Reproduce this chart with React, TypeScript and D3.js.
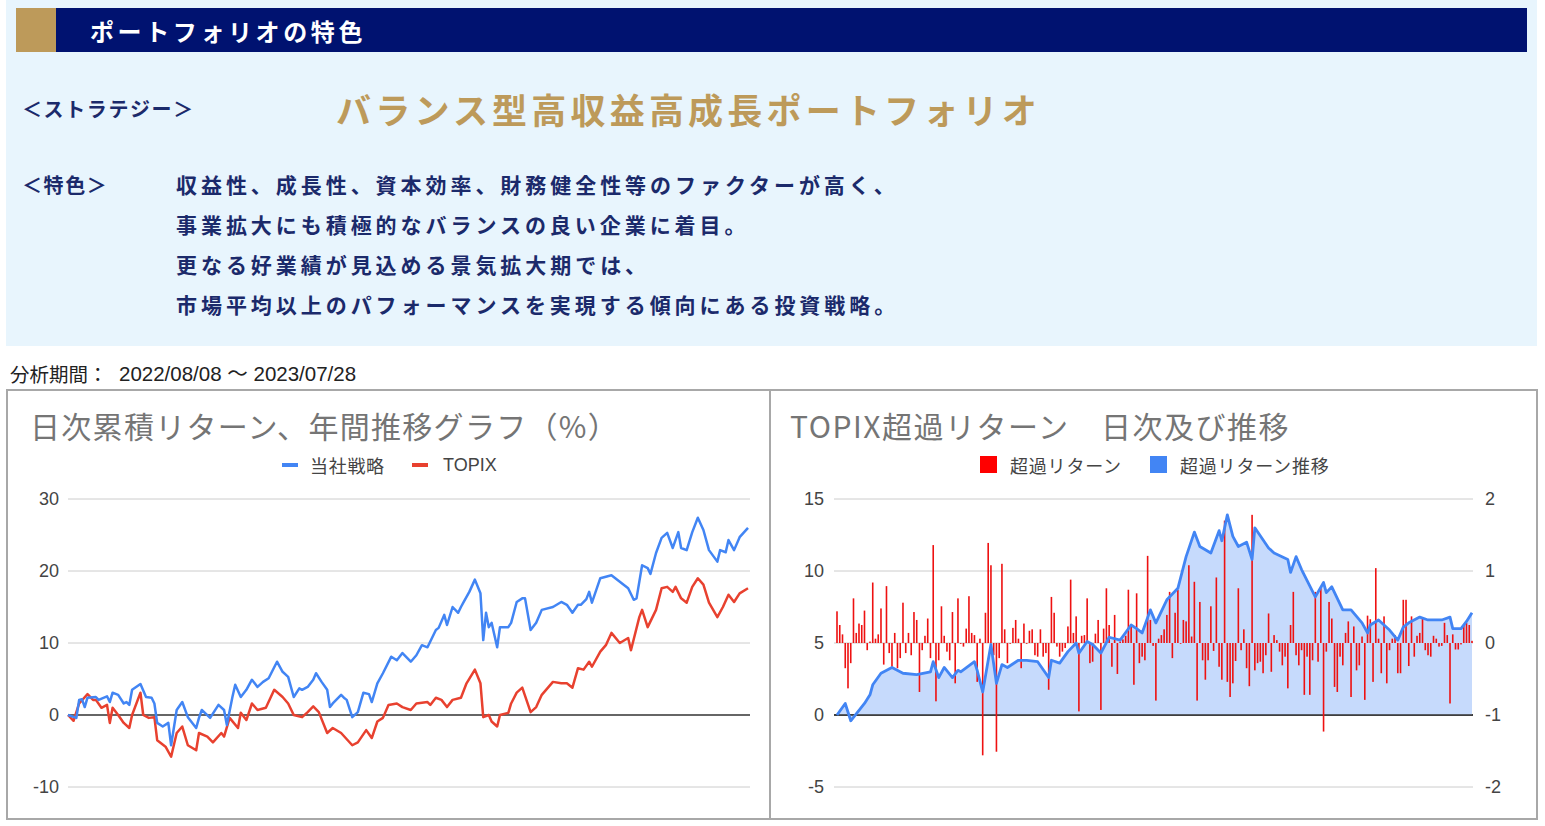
import React from "react";
import * as d3 from "d3";

// ---------- text content ----------
const headerTitle = "ポートフォリオの特色";
const strategyLabel = "＜ストラテジー＞";
const strategyName = "バランス型高収益高成長ポートフォリオ";
const featureLabel = "＜特色＞";
const featureLines = [
  "収益性、成長性、資本効率、財務健全性等のファクターが高く、",
  "事業拡大にも積極的なバランスの良い企業に着目。",
  "更なる好業績が見込める景気拡大期では、",
  "市場平均以上のパフォーマンスを実現する傾向にある投資戦略。",
];
const periodLabel = "分析期間：";
const periodRange = "2022/08/08 ～ 2023/07/28";

// ---------- left chart: cumulative returns (%) ----------
const leftTitle = "日次累積リターン、年間推移グラフ（%）";
const leftSeriesNames = ["当社戦略", "TOPIX"];
const leftTicks = [-10, 0, 10, 20, 30];
const leftDays = 244;

const strategy: [number, number][] = [
  [0, 0], [3, -0.4], [4, 2.1], [5, 2.2], [6, 1.1], [7, 2.4], [10, 2.5], [11, 2.1], [14, 2.6], [15, 1.8],
  [16, 3.1], [18, 2.8], [20, 1.6], [21, 1.8], [22, 1.4], [23, 3.5], [26, 4.3], [28, 2.5], [30, 2.4], [31, 1.6],
  [32, -1.1], [34, -1.6], [36, -1.1], [37, -4.2], [39, 0.7], [41, 1.8], [43, -0.3], [46, -1.8], [47, -0.4], [48, 0.7],
  [51, -0.4], [54, 1.4], [56, 0.7], [57, -1.4], [59, 2.5], [60, 4.2], [62, 2.5], [64, 3.5], [66, 4.9], [68, 3.9],
  [70, 4.6], [72, 5.1], [75, 7.4], [77, 6.0], [79, 5.3], [81, 2.5], [83, 3.7], [84, 3.5], [86, 3.9], [88, 4.9],
  [89, 5.8], [91, 4.6], [93, 3.5], [94, 1.1], [95, 1.6], [98, 2.8], [99, 2.4], [100, 2.1], [102, -0.3], [104, 0.4],
  [106, 3.1], [108, 2.9], [109, 1.8], [111, 4.4], [113, 5.8], [116, 8.1], [118, 7.6], [120, 8.6], [123, 7.4], [125, 8.3],
  [127, 9.7], [129, 9.4], [132, 11.8], [133, 12.1], [135, 13.9], [136, 12.5], [138, 15.0], [140, 14.2], [141, 15.0], [142, 15.7],
  [144, 17.1], [146, 18.8], [148, 16.9], [149, 10.4], [150, 14.2], [151, 12.2], [152, 12.8], [154, 9.4], [155, 12.2], [158, 12.2],
  [159, 12.8], [161, 15.7], [163, 16.2], [164, 16.2], [166, 11.8], [168, 12.8], [170, 14.6], [174, 15.0], [177, 15.7], [179, 15.3],
  [181, 14.2], [183, 15.3], [184, 15.3], [186, 16.1], [187, 17.1], [188, 15.6], [191, 19.0], [193, 19.2], [195, 19.4], [198, 18.5],
  [201, 17.6], [203, 16.0], [204, 16.2], [206, 20.8], [208, 20.4], [209, 19.6], [211, 22.5], [213, 24.6], [215, 25.3], [217, 23.2],
  [219, 25.4], [220, 23.2], [222, 22.9], [224, 25.4], [226, 27.4], [228, 25.7], [230, 22.9], [233, 21.3], [234, 22.9], [236, 22.6],
  [237, 24.3], [239, 22.9], [241, 24.7], [244, 26.0],
];

const topix: [number, number][] = [
  [0, 0], [2, -0.8], [4, 1.6], [7, 2.9], [9, 2.1], [10, 2.1], [12, 1.0], [14, 1.4], [15, -1.1], [16, 1.0],
  [18, 0], [20, -1.1], [22, -1.8], [23, 0], [26, 3.1], [27, 0], [29, -0.4], [31, -0.3], [32, -3.5], [35, -4.4],
  [37, -5.8], [39, -2.5], [41, -1.6], [43, -4.2], [46, -4.9], [47, -2.5], [50, -3.0], [52, -3.8], [55, -2.5], [56, -3.0],
  [58, -0.4], [61, -1.8], [62, 0.3], [64, -0.7], [66, 1.6], [68, 0.7], [71, 1.0], [74, 3.5], [77, 2.5], [79, 1.6],
  [81, 0], [84, -0.3], [86, 0.4], [88, 1.2], [90, 0.4], [93, -2.5], [95, -1.8], [98, -2.5], [102, -4.2], [104, -3.8],
  [107, -2.1], [109, -3.2], [111, -0.9], [113, -0.4], [115, 1.4], [118, 1.6], [120, 1.1], [123, 0.7], [125, 1.6], [129, 1.8],
  [130, 1.4], [132, 2.4], [134, 2.1], [136, 1.1], [138, 2.1], [141, 2.4], [143, 4.4], [146, 6.3], [148, 4.4], [149, -0.3],
  [151, 0], [152, -0.9], [154, -1.6], [155, 0], [158, 0.3], [159, 1.6], [161, 3.1], [163, 3.8], [166, 0.4], [168, 1.1],
  [170, 2.8], [174, 4.6], [177, 4.4], [179, 4.4], [181, 3.8], [183, 6.5], [185, 6.3], [187, 7.4], [188, 6.7], [191, 8.8],
  [193, 9.7], [195, 11.4], [198, 10.0], [201, 10.7], [202, 9.0], [205, 13.6], [206, 14.6], [208, 12.2], [211, 14.6], [213, 17.6],
  [215, 17.8], [217, 17.1], [218, 17.8], [220, 16.2], [222, 15.6], [224, 17.8], [226, 19.0], [228, 18.1], [230, 15.6], [233, 13.6],
  [235, 15.0], [237, 16.7], [239, 15.7], [241, 16.9], [244, 17.6],
];

// ---------- right chart: excess return over TOPIX ----------
const rightTitle = "TOPIX超過リターン　日次及び推移";
const rightSeriesNames = ["超過リターン", "超過リターン推移"];
const rightLeftTicks = [-5, 0, 5, 10, 15];
const rightRightTicks = [-2, -1, 0, 1, 2];

// daily excess return (right axis, %)
const dailyExcess: number[] = [
  0.44, 0.25, 0.12, -0.35, -0.63, -0.28, 0.62, 0.14, 0.27, 0.25, 0.45, -0.1, 0.02, 0.84, 0.06, 0.12, 0.48, -0.3, 0.79, -0.14,
  -0.33, 0.14, -0.35, -0.21, 0.56, -0.14, 0.14, -0.17, 0.43, 0.32, -0.68, -0.1, 0.1, 0.34, -0.21, 1.36, -0.81, -0.24, 0.51, 0.1,
  -0.12, -0.24, 0.43, -0.56, 0.62, 0,
  -0.05, 0.2, 0.65, 0.14, 0.11, -0.54, 0.06, -1.56, 0.42, 1.39, 1.08, -0.17, -1.51, -0.21, 1.1, 0.19, -0.28, 0, 0.21, 0.32,
  0.06, -0.35, 0.27, 0, 0.17, 0.19, -0.17, -0.19, 0.19, -0.19, -0.14, -0.65, 0.64, 0.42, -0.05, -0.19, -0.12, -0.07, 0.23, 0.88,
  0.14, 0.37, -0.95, 0.1, 0.11, 0.62, -0.28,
  -0.26, 0.13, 0.32, -0.93, 0.2, 0.76, 0.25, -0.33, 0.39, -0.43, 0.02, 0.05, 0.1, 0.74, 0.25, -0.58, 0.69, -0.28, -0.19, -0.24,
  1.21, 0.32, -0.04, -0.8, 0.06, 0.11, 0.19, 0.39, 0.71, -0.21, 0.42, 0.74, 0, 0.32, 0.3, 1.08, 0.09, 0.85, -0.8, 0.57,
  -0.24, -0.51, -0.24, 0.51, -0.11, 0.91,
  -0.33, -0.51, 1.7, -0.54, -0.75, -0.56, -0.25, 0.76, -0.1, 0.19, -0.35, -0.6, 1.78, -0.38, -0.28, -0.26, -0.42, -0.17, 0.41, -0.4,
  0.11, 0.04, -0.12, -0.31, -0.19, -0.63, 0.25, 0.71, -0.17, -0.31, -0.1, -0.72, -0.19, -0.72, -0.24, 0.71, -0.26, 0.76, -1.23, -0.12,
  0.57, 0.34, -0.61, -0.68, -0.19, -0.31, 0.14, 0.3,
  -0.75, 0.23, -0.38, -0.31, 0.09, -0.79, 0.38, 0.33, -0.54, 1.04, 0.06, -0.42, 0.37, -0.56, -0.1, 0.06, 0.11, -0.42, -0.42, 0.6,
  0.6, -0.32, 0.37, -0.19, 0.1, 0.14, 0.34, -0.1, -0.17, -0.19, 0.1, 0.06, -0.05, -0.04, 0.28, 0.11, -0.84, 0.12, -0.09, -0.09,
  -0.02, 0.25, 0.28, 0.25, 0.03,
];

// cumulative excess return (left axis, %), [day index, value]
const cumulativeExcess: [number, number][] = [
  [0, 0], [3, 0.8], [5, -0.4], [10, 0.8], [12, 1.4], [13, 2.1], [16, 2.9], [20, 3.3], [24, 2.9], [29, 2.8],
  [34, 3.0], [35, 3.7], [37, 2.6], [39, 3.3], [42, 2.6], [44, 3.1], [45, 3.0], [50, 3.7], [51, 3.1], [53, 1.6],
  [56, 4.9], [58, 2.2], [60, 3.5], [62, 3.3], [66, 3.8], [69, 3.8], [73, 3.7], [77, 2.6], [78, 3.8], [81, 3.6],
  [84, 4.4], [87, 5.0], [88, 4.3], [91, 5.1], [93, 4.9], [96, 4.3], [99, 5.4], [103, 5.2], [107, 6.25], [109, 6.0],
  [111, 5.7], [114, 7.3], [116, 6.4], [120, 8.0], [124, 8.8], [127, 11.0], [130, 12.7], [132, 11.7], [136, 11.25], [139, 12.8],
  [140, 12.1], [142, 13.9], [144, 12.4], [146, 11.7], [149, 12.0], [151, 10.8], [152, 13.0], [157, 11.6], [159, 11.25], [164, 10.8],
  [165, 9.9], [167, 11.0], [169, 10.1], [174, 8.2], [177, 9.2], [178, 8.5], [180, 8.9], [184, 7.3], [187, 7.3], [191, 6.4],
  [193, 5.7], [194, 6.25], [197, 6.6], [201, 5.9], [204, 5.2], [206, 6.1], [208, 6.4], [212, 6.8], [215, 6.6], [220, 6.6],
  [223, 6.8], [224, 6.0], [227, 6.0], [229, 6.5], [231, 7.1],
];

// ---------- styles ----------
const JP = "'Noto Sans CJK JP', 'Noto Sans', sans-serif";
const NUM = "'Liberation Sans', Arial, 'Noto Sans CJK JP', sans-serif";
const NAVY = "#001270";
const GOLD = "#bd9a5a";
const TXT_NAVY = "#1b2a6b";
const BLUE = "#4285f4";
const RED = "#e8412f";

export default function App() {
  // left chart scales
  const xL = d3.scaleLinear().domain([0, leftDays]).range([68, 748]);
  const yL = d3.scaleLinear().domain([-10, 30]).range([787, 499]);
  const lineL = d3.line<[number, number]>().x((d) => xL(d[0])).y((d) => yL(d[1]));

  // right chart scales
  const nBars = dailyExcess.length;
  const xR = d3.scaleLinear().domain([0, nBars - 1]).range([837, 1472]);
  const yRL = d3.scaleLinear().domain([-5, 15]).range([787, 499]);
  const yRR = d3.scaleLinear().domain([-2, 2]).range([787, 499]);
  const areaR = d3
    .area<[number, number]>()
    .x((d) => xR(d[0]))
    .y0(yRL(0))
    .y1((d) => yRL(d[1]));
  const lineR = d3.line<[number, number]>().x((d) => xR(d[0])).y((d) => yRL(d[1]));

  return (
    <svg
      width={1545}
      height={826}
      style={{ position: "absolute", left: 0, top: 0, background: "#fff" }}
    >
      {/* top info panel */}
      <rect x={6} y={0} width={1531} height={346} fill="#e8f5fd" />
      <rect x={16} y={8} width={40} height={44} fill={GOLD} />
      <rect x={56} y={8} width={1471} height={44} fill={NAVY} />
      <text x={90} y={30} fill="#fff" fontFamily={JP} fontWeight={700} fontSize={24} letterSpacing={3.6} dominantBaseline="central">
        {headerTitle}
      </text>
      <text x={22} y={108} fill={TXT_NAVY} fontFamily={JP} fontWeight={700} fontSize={20} letterSpacing={1.6} dominantBaseline="central">
        {strategyLabel}
      </text>
      <text x={336} y={108} fill={GOLD} fontFamily={JP} fontWeight={700} fontSize={35} letterSpacing={4.2} dominantBaseline="central">
        {strategyName}
      </text>
      <text x={22} y={184} fill={TXT_NAVY} fontFamily={JP} fontWeight={700} fontSize={20} letterSpacing={1.6} dominantBaseline="central">
        {featureLabel}
      </text>
      {featureLines.map((t, i) => (
        <text key={i} x={176} y={184 + i * 40} fill={TXT_NAVY} fontFamily={JP} fontWeight={700} fontSize={21} letterSpacing={3.95} dominantBaseline="central">
          {t}
        </text>
      ))}

      <text x={10} y={373} fill="#222" fontFamily={JP} fontSize={19.5} dominantBaseline="central">
        {periodLabel}
      </text>
      <text x={119} y={373} fill="#222" fontFamily={NUM} fontSize={20.5} dominantBaseline="central">
        {periodRange}
      </text>

      {/* chart frames */}
      <rect x={7} y={390} width={763} height={429} fill="#fff" stroke="#a8a8a8" strokeWidth={2} />
      <rect x={770} y={390} width={767} height={429} fill="#fff" stroke="#a8a8a8" strokeWidth={2} />

      {/* ---------- left chart ---------- */}
      <text x={30} y={425} fill="#757575" fontFamily={JP} fontSize={30} letterSpacing={1.3} dominantBaseline="central">
        {leftTitle}
      </text>
      <rect x={282} y={463} width={16} height={4} fill={BLUE} />
      <text x={310} y={465} fill="#444" fontFamily={JP} fontSize={18} letterSpacing={0.7} dominantBaseline="central">
        {leftSeriesNames[0]}
      </text>
      <rect x={412} y={463} width={16} height={4} fill={RED} />
      <text x={443} y={465} fill="#444" fontFamily={NUM} fontSize={18} dominantBaseline="central">
        {leftSeriesNames[1]}
      </text>
      {leftTicks.map((t) => (
        <g key={t}>
          <line x1={68} x2={750} y1={yL(t)} y2={yL(t)} stroke={t === 0 ? "#333" : "#ccc"} strokeWidth={t === 0 ? 1.5 : 1} />
          <text x={59} y={yL(t)} textAnchor="end" fill="#444" fontFamily={NUM} fontSize={18} dominantBaseline="central">
            {t}
          </text>
        </g>
      ))}
      <path d={lineL(topix) || ""} fill="none" stroke={RED} strokeWidth={2.5} strokeLinejoin="round" />
      <path d={lineL(strategy) || ""} fill="none" stroke={BLUE} strokeWidth={2.5} strokeLinejoin="round" />

      {/* ---------- right chart ---------- */}
      <text x={790} y={425} fill="#757575" fontFamily={JP} fontSize={30} letterSpacing={1.5} dominantBaseline="central">
        {rightTitle}
      </text>
      <rect x={980} y={456} width={17} height={17} fill="#ff0000" />
      <text x={1010} y={465} fill="#444" fontFamily={JP} fontSize={18} letterSpacing={0.8} dominantBaseline="central">
        {rightSeriesNames[0]}
      </text>
      <rect x={1150} y={456} width={17} height={17} fill={BLUE} />
      <text x={1180} y={465} fill="#444" fontFamily={JP} fontSize={18} letterSpacing={0.8} dominantBaseline="central">
        {rightSeriesNames[1]}
      </text>
      {rightLeftTicks.map((t) => (
        <g key={t}>
          <line x1={834} x2={1473} y1={yRL(t)} y2={yRL(t)} stroke={t === 0 ? "#333" : "#ccc"} strokeWidth={t === 0 ? 1.5 : 1} />
          <text x={824} y={yRL(t)} textAnchor="end" fill="#444" fontFamily={NUM} fontSize={18} dominantBaseline="central">
            {t}
          </text>
        </g>
      ))}
      {rightRightTicks.map((t) => (
        <text key={t} x={1485} y={yRR(t)} textAnchor="start" fill="#444" fontFamily={NUM} fontSize={18} dominantBaseline="central">
          {t}
        </text>
      ))}
      <path d={areaR(cumulativeExcess) || ""} fill="#c6dafc" stroke="none" />
      <line x1={834} x2={1473} y1={yRL(0)} y2={yRL(0)} stroke="#333" strokeWidth={1.5} />
      {dailyExcess.map((v, i) => (
        <rect
          key={i}
          x={xR(i) - 0.8}
          width={1.6}
          y={Math.min(yRR(v), yRR(0))}
          height={Math.max(0.8, Math.abs(yRR(v) - yRR(0)))}
          fill="#ee1111"
        />
      ))}
      <path d={lineR(cumulativeExcess) || ""} fill="none" stroke={BLUE} strokeWidth={2.8} strokeLinejoin="round" />
    </svg>
  );
}
